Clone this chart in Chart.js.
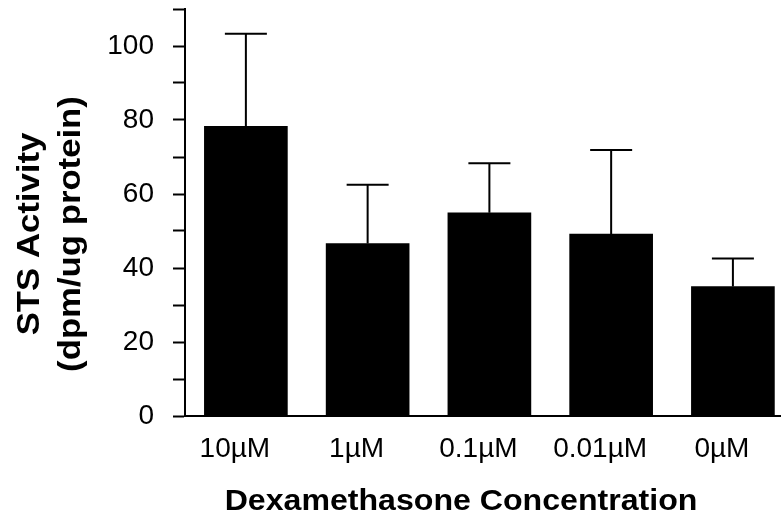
<!DOCTYPE html>
<html>
<head>
<meta charset="utf-8">
<script src="https://cdn.jsdelivr.net/npm/chart.js@4"></script>
<style>
  html, body { margin: 0; padding: 0; background: #fff; overflow: hidden; }
  #wrap { width: 781px; height: 517px; }
</style>
</head>
<body>
<div id="wrap"><canvas id="sts-chart" width="781" height="517"></canvas></div>
<script>
const concentrations = ['10µM', '1µM', '0.1µM', '0.01µM', '0µM']
const meanActivity = [78.3, 46.6, 54.9, 49.2, 35.0]
const errorActivity = [25.0, 15.9, 13.4, 22.7, 7.6]
const yTickValues = [0, 20, 40, 60, 80, 100]

const yTitleLines = ['STS Activity', '(dpm/ug protein)']
const xTitleText = 'Dexamethasone Concentration'

const fontFamily = '"Liberation Sans", Arial, Helvetica, sans-serif'

// error bars drawn on top of the bars, upper side only
const errorBarPlugin = {
  id: 'errorBars',
  afterDatasetsDraw(chart) {
    const ctx = chart.ctx
    const yScale = chart.scales.y
    const meta = chart.getDatasetMeta(0)
    ctx.save()
    ctx.strokeStyle = '#000'
    ctx.lineWidth = 2
    meta.data.forEach((bar, i) => {
      const top = yScale.getPixelForValue(meanActivity[i] + errorActivity[i])
      ctx.beginPath()
      ctx.moveTo(bar.x, bar.y)
      ctx.lineTo(bar.x, top)
      ctx.moveTo(bar.x - 21, top)
      ctx.lineTo(bar.x + 21, top)
      ctx.stroke()
    })
    ctx.restore()
  }
}

// axis titles placed like the original figure (text is a bit stretched there)
const axisTitlePlugin = {
  id: 'axisTitles',
  afterDraw(chart) {
    const ctx = chart.ctx
    ctx.save()
    ctx.fillStyle = '#000'
    ctx.font = 'bold 31px ' + fontFamily
    ctx.textAlign = 'center'
    ctx.textBaseline = 'alphabetic'
    const baselines = [39, 80]
    yTitleLines.forEach((line, i) => {
      ctx.save()
      ctx.translate(baselines[i], 234)
      ctx.rotate(-Math.PI / 2)
      ctx.scale(1.12, 1)
      ctx.fillText(line, 0, 0)
      ctx.restore()
    })
    ctx.font = 'bold 30px ' + fontFamily
    ctx.translate(461, 510)
    ctx.scale(1.07, 1)
    ctx.fillText(xTitleText, 0, 0)
    ctx.restore()
  }
}

const chartData = {
  datasets: [{
    data: concentrations.map((c, i) => ({ x: i, y: meanActivity[i] })),
    backgroundColor: '#000',
    borderColor: '#000',
    borderWidth: 0,
    barThickness: 83
  }]
}

const chartConfig = {
  type: 'bar',
  data: chartData,
  plugins: [errorBarPlugin, axisTitlePlugin],
  options: {
    responsive: false,
    animation: false,
    layout: { padding: { top: 9, left: 0, right: 0, bottom: 0 } },
    plugins: {
      legend: { display: false },
      tooltip: { enabled: false }
    },
    scales: {
      x: {
        type: 'linear',
        offset: false,
        min: -0.5,
        max: 4.395,
        afterBuildTicks(scale) {
          scale.ticks = concentrations.map((c, i) => ({ value: i }))
        },
        afterFit(scale) {
          scale.height = 101
          scale.paddingLeft = 0
          scale.paddingRight = 0
        },
        grid: { display: false },
        border: { display: true, color: '#000', width: 2 },
        ticks: {
          padding: 8,
          labelOffset: -11,
          color: '#000',
          maxRotation: 0,
          autoSkip: false,
          font: { family: fontFamily, size: 28 },
          callback: (v) => concentrations[v] ?? ''
        }
      },
      y: {
        min: 0,
        max: 110,
        afterFit(scale) {
          scale.width = 185
          scale.paddingTop = 0
          scale.paddingBottom = 0
        },
        grid: {
          drawOnChartArea: false,
          drawTicks: true,
          tickLength: 12,
          tickWidth: 2,
          tickColor: '#000'
        },
        border: { display: true, color: '#000', width: 2 },
        ticks: {
          stepSize: 10,
          padding: 19,
          color: '#000',
          autoSkip: false,
          font: { family: fontFamily, size: 28 },
          callback: (v) => yTickValues.includes(v) ? String(v) : ''
        }
      }
    }
  }
}

const ctx = document.querySelector('#sts-chart').getContext('2d')
const stsChart = new Chart(ctx, chartConfig)
</script>
</body>
</html>
